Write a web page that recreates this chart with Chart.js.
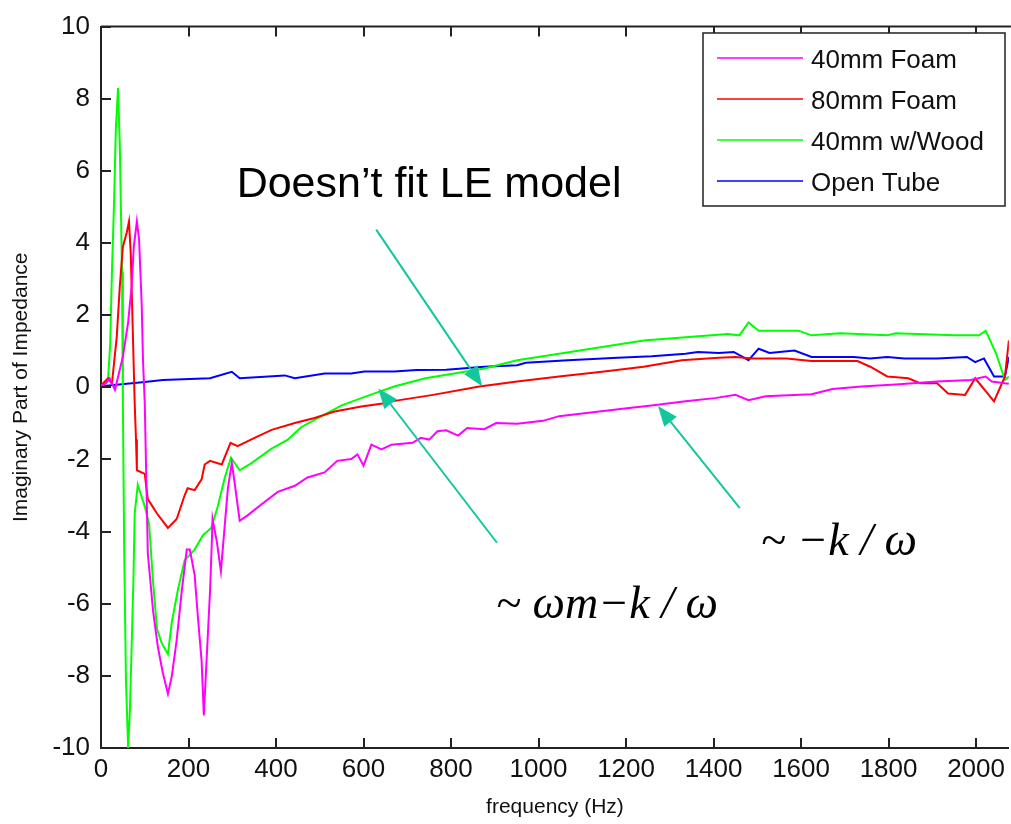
<!DOCTYPE html>
<html>
<head>
<meta charset="utf-8">
<script src="https://cdn.jsdelivr.net/npm/chart.js"></script>
<style>
html, body { margin: 0; padding: 0; background: #fff; overflow: hidden; }
</style>
</head>
<body>
<canvas id="mycanvas" width="1011" height="824"></canvas>
<script>
// series: frequency (Hz) and imaginary part
var foam40Hz = [0,10,20,32,50,62,70,75,82,87, 93,96,100,107,119,130,141,153,162,173, 185,196,203,214,221,230,235,242,249,253,
	255,265,274,283,290,299,306,317,335,367, 404,443,472,511,540,572,586,600,618,641, 664,712,731,750,769,789,816,837,876,903,
	951,1010,1047,1124,1202,1268,1336,1403,1450,1480, 1519,1624,1672,1738,1816,1911,1988,2022,2036,2066, 2075];
var foam40Im = [0.05,0.1,0.25,-0.07,0.85,1.8,2.8,3.9,4.6,4.1, 2.3,0.74,-0.44,-4.6,-6.2,-7.2,-7.9,-8.5,-8.0,-7.0, -5.6,-4.5,-4.5,-5.2,-6.3,-7.6,-9.1,-7.4,-5.7,-4.4,
	-3.65,-4.3,-5.1,-3.8,-2.8,-2.1,-2.7,-3.7,-3.55,-3.24, -2.9,-2.73,-2.5,-2.36,-2.04,-1.99,-1.86,-2.17,-1.59,-1.72, -1.59,-1.54,-1.4,-1.45,-1.22,-1.19,-1.34,-1.13,-1.16,-0.99,
	-1.01,-0.93,-0.8,-0.69,-0.58,-0.49,-0.39,-0.3,-0.21,-0.36, -0.25,-0.19,-0.05,0.02,0.08,0.16,0.2,0.3,0.16,0.11, 0.1];

var foam80Hz = [0,16,25,36,43,50,59,64,68,73, 77,80,82,100,107,128,153,173,191,198, 214,230,237,249,276,296,312,351,390,443,
	488,534,595,648,664,759,865,951,1047,1145, 1240,1327,1412,1450,1489,1567,1624,1729,1758,1797, 1845,1873,1911,1936,1975,1998,2041,2066,2075];
var foam80Im = [0.05,0.25,0.1,1.4,2.8,3.9,4.3,4.6,3.7,1.4, -0.44,-1.45,-2.3,-2.4,-3.1,-3.5,-3.9,-3.65,-3.0,-2.8, -2.85,-2.55,-2.14,-2.04,-2.14,-1.54,-1.63,-1.40,-1.18,-0.99,
	-0.85,-0.67,-0.53,-0.44,-0.39,-0.21,0.02,0.16,0.30,0.43, 0.57,0.75,0.82,0.84,0.8,0.8,0.73,0.73,0.57,0.30, 0.25,0.11,0.11,-0.17,-0.21,0.25,-0.39,0.3,1.3];

var woodHz = [0,10,16,21,25,30,34,39,43,48, 50,53,57,62,66,70,74,77,84,100, 110,119,128,139,153,162,176,191,214,233,
	252,267,283,297,317,344,390,427,458,504, 550,595,625,670,741,807,876,951,1047,1145, 1240,1336,1432,1459,1480,1503,1594,1624,1690,1797,
	1816,1950,2007,2022,2046,2066,2075];
var woodIm = [0.05,0.1,0.2,1.2,3.2,5.2,7.2,8.3,6.7,3.2, -0.44,-4.5,-8.1,-10,-9.0,-7.2,-5.4,-3.5,-2.7,-3.3, -3.8,-5.4,-6.7,-7.1,-7.4,-6.5,-5.6,-4.8,-4.5,-4.1,
	-3.9,-3.3,-2.5,-1.95,-2.3,-2.1,-1.7,-1.45,-1.1,-0.8, -0.5,-0.3,-0.17,0.02,0.25,0.38,0.52,0.75,0.93,1.12, 1.30,1.39,1.48,1.44,1.80,1.57,1.57,1.44,1.50,1.44,
	1.50,1.44,1.44,1.57,0.93,0.2,0.3];

var tubeHz = [0,100,141,249,299,317,420,443,511,572, 602,670,721,789,876,951,971,1067,1181,1259, 1336,1364,1412,1446,1480,1503,1528,1585,1624,1720,
	1758,1797,1836,1911,1979,1998,2018,2041,2066,2075];
var tubeIm = [0.03,0.15,0.2,0.25,0.43,0.25,0.33,0.25,0.38,0.38, 0.44,0.44,0.48,0.49,0.57,0.61,0.68,0.75,0.82,0.86, 0.93,0.98,0.95,0.98,0.75,1.07,0.95,1.02,0.84,0.84,
	0.8,0.84,0.8,0.8,0.84,0.7,0.8,0.3,0.3,0.84];

var seriesNames = ['40mm Foam', '80mm Foam', '40mm w/Wood', 'Open Tube'];
var seriesColors = ['#ff00ff', '#ff0000', '#00ff00', '#0000ff'];

var xTicks = [0, 200, 400, 600, 800, 1000, 1200, 1400, 1600, 1800, 2000];
var yTicks = [-10, -8, -6, -4, -2, 0, 2, 4, 6, 8, 10];

// annotations, in data units (Hz, Im)
var notes = [
	{ text: 'Doesn\u2019t fit LE model', at: [310, 5.27], font: '43px "Liberation Sans", Arial, sans-serif' },
	{ text: '~ \u03c9m\u2212k / \u03c9', at: [903, -6.4], font: 'italic 46px "Liberation Serif", "Times New Roman", serif' },
	{ text: '~ \u2212k / \u03c9', at: [1508, -4.64], font: 'italic 46px "Liberation Serif", "Times New Roman", serif' }
];
var arrows = [
	{ from: [629, 4.37], to: [871, 0.03] },
	{ from: [905, -4.31], to: [634, -0.03] },
	{ from: [1460, -3.35], to: [1273, -0.52] }
];

function pts(xs, ys) {
	var out = [];
	for (var i in xs) out.push({ x: xs[i], y: ys[i] });
	return out;
}

var allX = [foam40Hz, foam80Hz, woodHz, tubeHz];
var allY = [foam40Im, foam80Im, woodIm, tubeIm];
var datasets = [];
for (var s = 0; s < 4; s++) {
	datasets.push({
		label: seriesNames[s],
		data: pts(allX[s], allY[s]),
		borderColor: seriesColors[s],
		backgroundColor: seriesColors[s],
		borderWidth: 2,
		pointRadius: 0,
		tension: 0,
		fill: false
	});
}

var FONT = '"Liberation Sans", Arial, sans-serif';

var extras = {
	id: 'extras',
	afterDraw: function(chart) {
		var ctx = chart.ctx, a = chart.chartArea, xs = chart.scales.x, ys = chart.scales.y;
		ctx.save();
		ctx.strokeStyle = '#222';
		ctx.lineWidth = 2;
		ctx.beginPath();
		ctx.moveTo(a.left, a.top); ctx.lineTo(a.right + 2, a.top);
		xs.ticks.forEach(function(t) {
			var px = Math.round(xs.getPixelForValue(t.value));
			ctx.moveTo(px, a.bottom); ctx.lineTo(px, a.bottom - 10);
			ctx.moveTo(px, a.top); ctx.lineTo(px, a.top + 10);
		});
		ys.ticks.forEach(function(t) {
			var py = Math.round(ys.getPixelForValue(t.value));
			ctx.moveTo(a.left, py); ctx.lineTo(a.left + 10, py);
		});
		ctx.stroke();

		// legend box
		var lx = 703, ly = 33, lw = 302, lh = 173;
		ctx.fillStyle = '#fff';
		ctx.fillRect(lx, ly, lw, lh);
		ctx.lineWidth = 1.5;
		ctx.strokeStyle = '#222';
		ctx.strokeRect(lx, ly, lw, lh);
		ctx.font = '26px ' + FONT;
		ctx.textBaseline = 'middle';
		ctx.textAlign = 'left';
		chart.data.datasets.forEach(function(d, i) {
			var yy = 58 + i * 41;
			ctx.strokeStyle = d.borderColor;
			ctx.lineWidth = 1.5;
			ctx.beginPath(); ctx.moveTo(717, yy); ctx.lineTo(803, yy); ctx.stroke();
			ctx.fillStyle = '#111';
			ctx.fillText(d.label, 811, yy + 3);
		});

		// arrows
		ctx.strokeStyle = '#12c79b';
		ctx.fillStyle = '#12c79b';
		ctx.lineWidth = 2;
		arrows.forEach(function(ar) {
			var x0 = xs.getPixelForValue(ar.from[0]), y0 = ys.getPixelForValue(ar.from[1]);
			var x1 = xs.getPixelForValue(ar.to[0]), y1 = ys.getPixelForValue(ar.to[1]);
			var ang = Math.atan2(y1 - y0, x1 - x0);
			var hl = 20, hw = 8;
			var bx = x1 - hl * Math.cos(ang), by = y1 - hl * Math.sin(ang);
			ctx.beginPath(); ctx.moveTo(x0, y0); ctx.lineTo(bx, by); ctx.stroke();
			ctx.beginPath();
			ctx.moveTo(x1, y1);
			ctx.lineTo(bx + hw * Math.sin(ang), by - hw * Math.cos(ang));
			ctx.lineTo(bx - hw * Math.sin(ang), by + hw * Math.cos(ang));
			ctx.closePath(); ctx.fill();
		});

		// texts
		ctx.fillStyle = '#000';
		ctx.textBaseline = 'alphabetic';
		notes.forEach(function(n) {
			ctx.font = n.font;
			ctx.fillText(n.text, xs.getPixelForValue(n.at[0]), ys.getPixelForValue(n.at[1]));
		});
		ctx.restore();
	}
};

var ctx = document.getElementById('mycanvas');
var chart = new Chart(ctx, {
	type: 'line',
	data: { datasets: datasets },
	options: {
		responsive: false,
		animation: false,
		devicePixelRatio: 1,
		layout: { padding: { top: 20, left: 0, right: 0, bottom: 0 } },
		plugins: { legend: { display: false }, tooltip: { enabled: false } },
		scales: {
			x: {
				type: 'linear',
				min: 0,
				max: 2075,
				grid: { display: false, drawTicks: false },
				border: { display: true, color: '#222', width: 2 },
				ticks: {
					color: '#111', font: { family: FONT, size: 26 }, padding: 6, maxRotation: 0, autoSkip: false,
					callback: function(v) { return String(v); }
				},
				afterBuildTicks: function(scale) {
					scale.ticks = xTicks.map(function(v) { return { value: v }; });
				},
				afterFit: function(scale) { scale.height = 76; },
				title: { display: true, text: 'frequency (Hz)', color: '#111', font: { family: FONT, size: 21 }, padding: { top: 0, bottom: 4 } }
			},
			y: {
				min: -10,
				max: 10,
				grid: { display: false, drawTicks: false },
				border: { display: true, color: '#222', width: 2 },
				ticks: {
					color: '#111', font: { family: FONT, size: 26 }, padding: 11, autoSkip: false,
					callback: function(v) { return String(v); }
				},
				afterBuildTicks: function(scale) {
					scale.ticks = yTicks.map(function(v) { return { value: v }; });
				},
				afterFit: function(scale) { scale.width = 101; },
				title: { display: true, text: 'Imaginary Part of Impedance', color: '#111', font: { family: FONT, size: 21 }, padding: { top: 9, bottom: 0 } }
			}
		}
	},
	plugins: [extras]
});
</script>
</body>
</html>
